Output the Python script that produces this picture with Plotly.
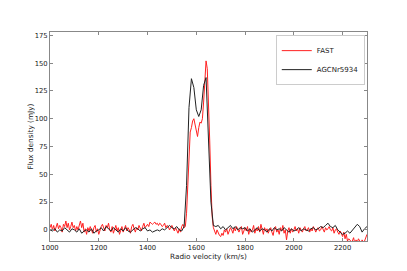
import numpy as np
import plotly.graph_objects as go

# FAST spectrum (5 km/s channels, 1000-2300 km/s)
fast_flux = [
    2, 5, 0, 4, -1, 3, 6, 1, 4, 2, -2, 5, 3, 8, 2, 6, 0, 3, 7, 2,
    4, -1, 3, 0, 5, 8, 2, 6, -2, 1, -4, 2, -1, 3, 0, -3, 2, 4, -2, 1,
    -4, 0, 3, 5, 1, -1, 4, 2, 6, 0, -2, 3, -3, 1, 4, -1, 2, -4, 0, 3,
    -2, 1, 4, -1, 2, 0, -3, 3, 5, 1, -2, 2, 0, 4, 1, -1, 3, 6, 2, 4,
    5, 3, 7, 6, 5, 6, 7, 5, 6, 4, 6, 5, 3, 4, 6, 2, 4, 3, 0, 2,
    4, 1, -1, 2, 0, -3, 1, -2, 3, 5, 2, 3, 15, 40, 70, 88, 92, 98, 100, 95,
    88, 84, 92, 97, 96, 100, 115, 135, 152, 145, 118, 80, 40, 12, 2, -1, -4, 0, -3, -5,
    -6, -3, -5, 0, -2, 1, -4, -1, 2, 0, -3, 2, -1, 3, 0, -2, 1, 3, -4, 0,
    2, -1, 3, -4, 1, -2, 0, 4, -3, 1, -1, 3, -2, 5, 0, -4, 2, -1, 1, -3,
    0, 2, -2, -5, 1, 3, -2, 0, -4, 2, -1, 4, -3, 0, -9, -1, 2, -3, 1, -2,
    0, 3, -1, 1, -3, 2, 0, -2, 1, 3, -1, 0, 2, -2, 1, -1, 3, 0, -2, 1,
    2, -1, 0, 3, 1, -2, 2, 0, 1, 3, 0, -1, 2, -3, 0, 1, -2, -4, -1, -3,
    -6, -2, -8, -4, -10, -8, -9, -11, -10, -7, -12, -9, -11, -8, -10, -12, -9, -11, -10, -7,
    -4,
]
fast_vel = np.linspace(1000, 2300, len(fast_flux))

# AGC spectrum (10 km/s channels)
agc_flux = [
    0, -1, 1, -2, 0, -1, 2, 0, -2, 1,
    0, -2, 1, -3, -1, 0, -2, 1, -3, -1,
    0, 2, -1, 3, 1, -1, 2, 0, -2, 1,
    -1, 2, -1, -2, 0, 2, 1, -1, 1, 2,
    -1, 0, -2, -1, 0, -1, 1, 0, 2, 4,
    2, 1, 3, 0, -1, 3, 40, 110, 136, 128,
    108, 102, 108, 130, 137, 85, 25, 4, 3, 4,
    1, 3, 0, 2, 4, 1, 3, 0, 2, 1,
    2, -1, 1, -2, 0, 2, -1, 1, 0, -2,
    1, -1, 2, 0, 1, -1, 2, 0, -2, 1,
    -1, 0, 2, -1, 1, 0, -1, 1, 2, 0,
    1, 3, 2, 4, 6, 3, 2, 4, 0, -2,
    -4, -3, -1, -3, 0, 3, 5, 3, -2, 1,
    3,
]
agc_vel = np.linspace(1000, 2300, len(agc_flux))

x_ticks = [1000, 1200, 1400, 1600, 1800, 2000, 2200]
y_ticks = [0, 25, 50, 75, 100, 125, 150, 175]

fig = go.Figure()
fig.add_trace(go.Scatter(x=fast_vel, y=fast_flux, mode="lines", name="FAST",
                         line=dict(color="#ff2020", width=1)))
fig.add_trace(go.Scatter(x=agc_vel, y=agc_flux, mode="lines", name="AGCNr5934",
                         line=dict(color="#222222", width=1)))

axis_common = dict(showline=True, linecolor="#888888", linewidth=1, mirror="ticks",
                   ticks="inside", ticklen=3, tickcolor="#888888", showgrid=False,
                   zeroline=False, automargin=False,
                   tickfont=dict(size=6.8, color="#222222"))
fig.update_xaxes(range=[1000, 2300], tickvals=x_ticks, **axis_common)
fig.update_yaxes(range=[-10, 178], tickvals=y_ticks, **axis_common)

fig.add_annotation(text="Radio velocity (km/s)", xref="paper", yref="paper",
                   x=0.5, y=-0.072, xanchor="center", yanchor="middle",
                   showarrow=False, font=dict(size=7.3, color="#222222"))
fig.add_annotation(text="Flux density (mJy)", xref="paper", yref="paper",
                   x=-0.063, y=0.5, xanchor="center", yanchor="middle", textangle=-90,
                   showarrow=False, font=dict(size=7.3, color="#222222"))

fig.update_layout(
    width=399, height=263,
    margin=dict(l=42, r=40, t=24, b=30),
    paper_bgcolor="white", plot_bgcolor="white",
    font=dict(family="DejaVu Sans", size=7, color="#222222"),
    legend=dict(x=0.993, y=0.985, xanchor="right", yanchor="top",
                bordercolor="#cccccc", borderwidth=1, bgcolor="white",
                font=dict(size=7), tracegroupgap=0, itemwidth=30),
    showlegend=True,
)

fig.write_html("out.html")
